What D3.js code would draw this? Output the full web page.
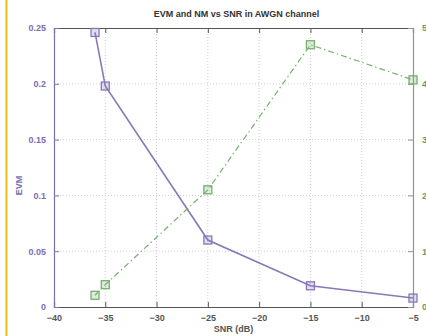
<!DOCTYPE html>
<html>
<head>
<meta charset="utf-8">
<script src="https://cdn.jsdelivr.net/npm/d3@7"></script>
<style>
  html, body { margin: 0; padding: 0; background: #ffffff; }
  svg { display: block; font-family: "Liberation Sans", Arial, sans-serif; }
</style>
</head>
<body>
<svg id="chart" width="426" height="336"></svg>
<script>
// SNR points (dB) shared by both curves
const snr = [-36, -35, -25, -15, -5];
// Error vector magnitude (left axis)
const evm = [0.246, 0.198, 0.060, 0.019, 0.008];
// Noise metric (right axis)
const nm = [0.21, 0.40, 2.1, 4.7, 4.07];

const xTicks = [-40, -35, -30, -25, -20, -15, -10, -5];
const yLeftTicks = [0, 0.05, 0.1, 0.15, 0.2, 0.25];
const yRightTicks = [0, 1, 2, 3, 4, 5];

const titleText = "EVM and NM vs SNR in AWGN channel";
const xLabel = "SNR (dB)";
const yLeftLabel = "EVM";

const W = 426, H = 336;
const m = { left: 54, right: 13, top: 28, bottom: 29 };
const iw = W - m.left - m.right, ih = H - m.top - m.bottom;

const evmColor = "#8878b8";
const nmColor = "#78b070";
const axisColor = "#555555";

const svg = d3.select("#chart");

// left gold border strip
svg.append("line").attr("x1", 6.5).attr("x2", 6.5).attr("y1", 0).attr("y2", H)
  .attr("stroke", "#e6bd1a").attr("stroke-width", 2);

const x = d3.scaleLinear().domain([-40, -5]).range([0, iw]);
const yL = d3.scaleLinear().domain([0, 0.25]).range([ih, 0]);
const yR = d3.scaleLinear().domain([0, 5]).range([ih, 0]);

const g = svg.append("g").attr("transform", `translate(${m.left},${m.top})`);

g.append("rect").attr("width", iw).attr("height", ih).attr("fill", "#ffffff");

// light grid
g.append("g").selectAll("line").data(xTicks.slice(1, -1)).join("line")
  .attr("x1", d => x(d)).attr("x2", d => x(d)).attr("y1", 0).attr("y2", ih)
  .attr("stroke", "#cfcfcf").attr("stroke-dasharray", "1,2");
g.append("g").selectAll("line").data(yLeftTicks.slice(1, -1)).join("line")
  .attr("y1", d => yL(d)).attr("y2", d => yL(d)).attr("x1", 0).attr("x2", iw)
  .attr("stroke", "#cfcfcf").attr("stroke-dasharray", "1,2");

svg.append("clipPath").attr("id", "plotclip")
  .append("rect").attr("width", iw).attr("height", ih);

// axes with inward ticks
const xAxisB = d3.axisBottom(x).tickValues(xTicks).tickSize(-5).tickPadding(8);
const xAxisT = d3.axisTop(x).tickValues(xTicks).tickSize(-5).tickFormat("");
const yAxisL = d3.axisLeft(yL).tickValues(yLeftTicks).tickSize(-5).tickPadding(8)
  .tickFormat(d3.format(""));
const yAxisR = d3.axisRight(yR).tickValues(yRightTicks).tickSize(-5).tickPadding(9)
  .tickFormat(d3.format("d"));

function styleAxis(sel, col, txtCol) {
  sel.select(".domain").attr("stroke", col).attr("stroke-width", 1.2);
  sel.selectAll(".tick line").attr("stroke", col);
  sel.selectAll("text").attr("fill", txtCol).attr("font-size", 9).attr("font-weight", "bold");
}

const gxb = g.append("g").attr("transform", `translate(0,${ih})`).call(xAxisB);
styleAxis(gxb, axisColor, "#555555");
const gxt = g.append("g").call(xAxisT);
styleAxis(gxt, axisColor, "#555555");
const gyl = g.append("g").call(yAxisL);
styleAxis(gyl, "#7a70a8", "#7a70b0");
const gyr = g.append("g").attr("transform", `translate(${iw},0)`).call(yAxisR);
styleAxis(gyr, "#8a9a88", "#6a9a60");

// EVM curve
const plot = g.append("g").attr("clip-path", "url(#plotclip)");
const lineL = d3.line().x((d, i) => x(snr[i])).y(d => yL(d));
plot.append("path").datum(evm).attr("d", lineL)
  .attr("fill", "none").attr("stroke", evmColor).attr("stroke-width", 1.6);
g.append("g").selectAll("rect").data(evm).join("rect")
  .attr("x", (d, i) => x(snr[i]) - 4).attr("y", d => yL(d) - 4)
  .attr("width", 8).attr("height", 8)
  .attr("fill", "rgba(136,120,184,0.25)").attr("stroke", evmColor).attr("stroke-width", 1.3);

// NM curve
const lineR = d3.line().x((d, i) => x(snr[i])).y(d => yR(d));
plot.append("path").datum(nm).attr("d", lineR)
  .attr("fill", "none").attr("stroke", nmColor).attr("stroke-width", 1.2)
  .attr("stroke-dasharray", "6,3,1.5,3");
g.append("g").selectAll("rect").data(nm).join("rect")
  .attr("x", (d, i) => x(snr[i]) - 4).attr("y", d => yR(d) - 4)
  .attr("width", 8).attr("height", 8)
  .attr("fill", "rgba(120,176,112,0.25)").attr("stroke", nmColor).attr("stroke-width", 1.3);

// title and axis labels
svg.append("text").attr("x", m.left + iw / 2 + 3).attr("y", 17).attr("text-anchor", "middle")
  .attr("font-size", 9).attr("font-weight", "bold").attr("fill", "#333333").text(titleText);
svg.append("text").attr("x", m.left + iw / 2).attr("y", 332).attr("text-anchor", "middle")
  .attr("font-size", 9).attr("font-weight", "bold").attr("fill", "#555555").text(xLabel);
svg.append("text").attr("transform", `translate(22,${m.top + ih / 2 + 18}) rotate(-90)`)
  .attr("text-anchor", "middle").attr("font-size", 9).attr("font-weight", "bold")
  .attr("fill", "#7a70b0").text(yLeftLabel);
</script>
</body>
</html>
